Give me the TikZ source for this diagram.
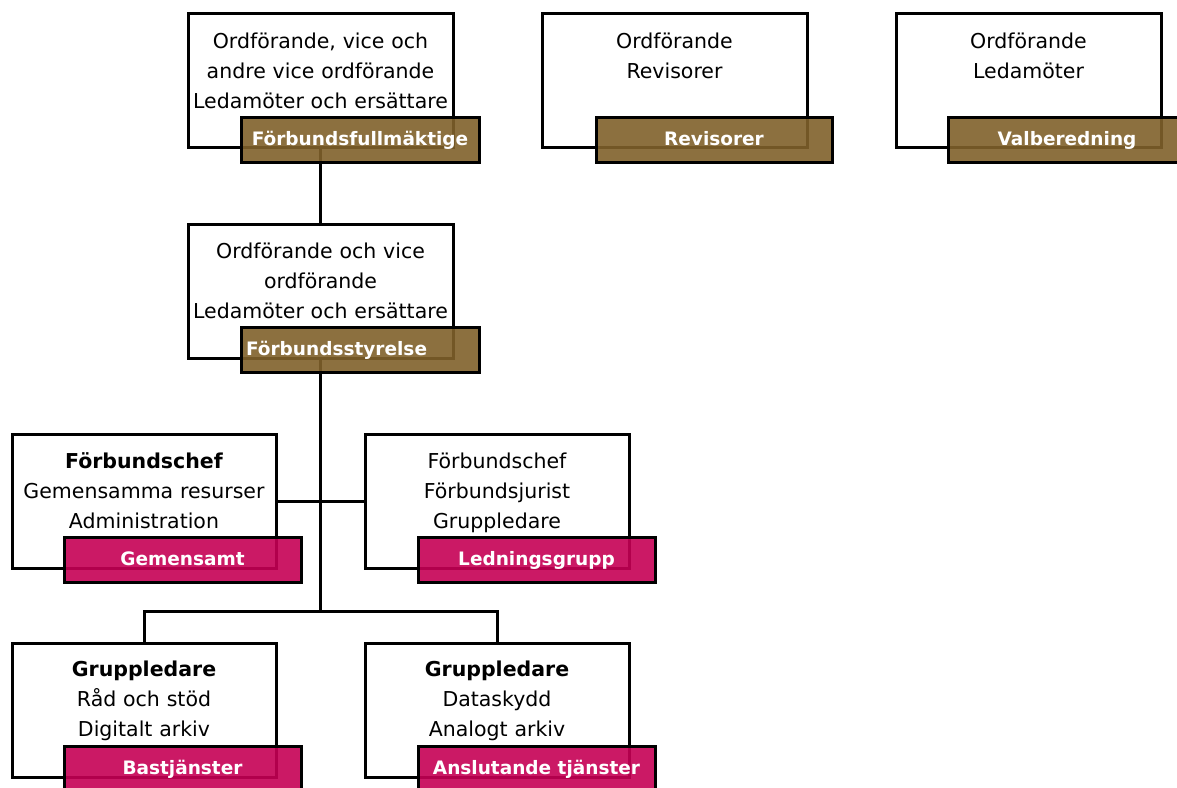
\documentclass[tikz,border=0pt]{standalone}
\usepackage{fontspec}
\setmainfont{DejaVu Sans}
\usetikzlibrary{calc}
\definecolor{gold}{HTML}{80612B}
\definecolor{crim}{HTML}{C60055}
\tikzset{
  unit/.style={draw, line width=3pt, fill=white, minimum width=265pt, minimum height=134pt, inner sep=0pt, outer sep=0pt, anchor=north west},
  role/.style={anchor=base, text width=262pt, align=center, inner sep=0pt, font=\fontsize{20.5}{30}\selectfont},
  tag/.style={draw, line width=3pt, minimum width=238pt, minimum height=45pt, inner xsep=0pt, inner ysep=0pt, outer sep=0pt,
    text height=14pt, text depth=3pt, font=\bfseries\fontsize{18.5}{20}\selectfont, text=white,
    fill opacity=0.9, text opacity=1, anchor=north west},
  goldtag/.style={tag, fill=gold},
  crimtag/.style={tag, fill=crim},
  link/.style={line width=3pt}
}
\begin{document}
\begin{tikzpicture}[x=1pt,y=-1pt]
\useasboundingbox[fill=white] (0,0) rectangle (1177,787);
% boxes
\node[unit] (b1) at (188,13) {};
\node[unit] (b2) at (542,13) {};
\node[unit] (b3) at (896,13) {};
\node[unit] (b4) at (188,224) {};
\node[unit, minimum width=264pt] (b5) at (12,434) {};
\node[unit, minimum width=264pt] (b6) at (365,434) {};
\node[unit, minimum width=264pt] (b7) at (12,643) {};
\node[unit, minimum width=264pt] (b8) at (365,643) {};
% texts
\node[role] (t1) at ([yshift=-35pt]b1.north) {Ordförande, vice och\\andre vice ordförande\\Ledamöter och ersättare};
\node[role] (t2) at ([yshift=-35pt]b2.north) {Ordförande\\Revisorer};
\node[role] (t3) at ([yshift=-35pt]b3.north) {Ordförande\\Ledamöter};
\node[role] (t4) at ([yshift=-34pt]b4.north) {Ordförande och vice\\ordförande\\Ledamöter och ersättare};
\node[role] (t5) at ([yshift=-34pt]b5.north) {\textbf{Förbundschef}\\Gemensamma resurser\\Administration};
\node[role] (t6) at ([yshift=-34pt]b6.north) {Förbundschef\\Förbundsjurist\\Gruppledare};
\node[role] (t7) at ([yshift=-33pt]b7.north) {\textbf{Gruppledare}\\Råd och stöd\\Digitalt arkiv};
\node[role] (t8) at ([yshift=-33pt]b8.north) {\textbf{Gruppledare}\\Dataskydd\\Analogt arkiv};
% connectors
\coordinate (j) at ($(b4.south)+(0,253)$);
\draw[link] (b1.south) -- (b4.north);
\draw[link] (b4.south) -- (j);
\draw[link] (b5.east) -- (b6.west);
\draw[link] (b7.north) |- (j) -| (b8.north);
% labels
\node[goldtag] (l1) at (241,117) {Förbundsfullmäktige};
\node[goldtag, minimum width=236pt] (l2) at (596,117) {Revisorer};
\node[goldtag] (l3) at (948,117) {Valberedning};
\node[goldtag, text width=228pt, align=left, inner xsep=5pt] (l4) at (241,327) {Förbundsstyrelse};
\node[crimtag, minimum width=237pt] (l5) at (64,537) {Gemensamt};
\node[crimtag, minimum width=237pt] (l6) at (418,537) {Ledningsgrupp};
\node[crimtag, minimum width=237pt] (l7) at (64,746) {Bastjänster};
\node[crimtag, minimum width=237pt] (l8) at (418,746) {Anslutande tjänster};
\end{tikzpicture}
\end{document}
